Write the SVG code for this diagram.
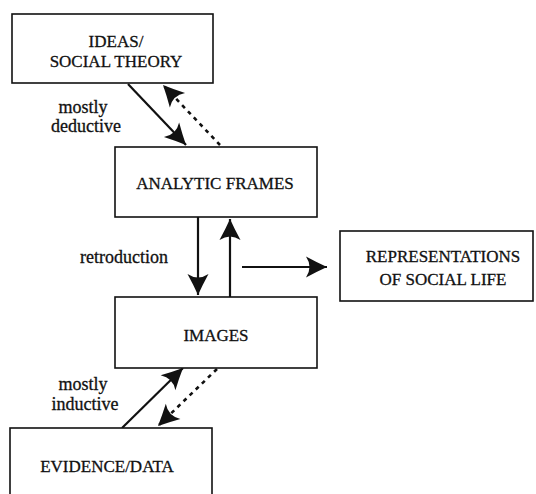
<svg xmlns="http://www.w3.org/2000/svg" width="536" height="494" viewBox="0 0 536 494" font-family="'Liberation Serif', 'Times New Roman', Times, serif">
  <style>
    .box { fill: #fff; stroke: #111; stroke-width: 1.6; }
    text { fill: #111; stroke: #111; stroke-width: 0.3; text-anchor: middle; }
    .cap { font-size: 17px; }
    .lbl { font-size: 18px; }
    .solid { fill: none; stroke: #111; stroke-width: 2.2; }
    .dash { fill: none; stroke: #111; stroke-width: 2.6; stroke-dasharray: 4 4.5; }
  </style>
  <defs>
    <marker id="head" viewBox="-24 -12 26 24" refX="0" refY="0" markerWidth="26" markerHeight="24" markerUnits="userSpaceOnUse" orient="auto">
      <path d="M0,0 Q-10,-4.5 -21,-10.5 Q-14,0 -21,10.5 Q-10,4.5 0,0 Z" fill="#111"/>
    </marker>
  </defs>

  <rect width="536" height="494" fill="#fff"/>

  <!-- connectors -->
  <g id="connectors">
    <!-- theory to frames (deductive) and back (dashed) -->
    <line class="solid" x1="128" y1="84" x2="186" y2="145" marker-end="url(#head)"/>
    <line class="dash" x1="220" y1="145" x2="163" y2="85" marker-end="url(#head)"/>
    <!-- retroduction loop between frames and images -->
    <line class="solid" x1="198" y1="217" x2="198" y2="295" marker-end="url(#head)"/>
    <line class="solid" x1="230" y1="297" x2="230" y2="219" marker-end="url(#head)"/>
    <!-- out to representations -->
    <line class="solid" x1="242" y1="267" x2="327" y2="267" marker-end="url(#head)"/>
    <!-- evidence to images (inductive) and back (dashed) -->
    <line class="solid" x1="122" y1="428" x2="183" y2="368" marker-end="url(#head)"/>
    <line class="dash" x1="217" y1="369" x2="158" y2="426" marker-end="url(#head)"/>
  </g>

  <g id="ideas">
    <rect class="box" x="12" y="14" width="201" height="69"/>
    <text class="cap" x="116" y="47">IDEAS/</text>
    <text class="cap" x="116" y="67">SOCIAL THEORY</text>
  </g>

  <g id="frames">
    <rect class="box" x="115" y="147" width="202" height="70"/>
    <text class="cap" x="215" y="189">ANALYTIC FRAMES</text>
  </g>

  <g id="images">
    <rect class="box" x="115" y="297" width="202" height="71"/>
    <text class="cap" x="216" y="341">IMAGES</text>
  </g>

  <g id="representations">
    <rect class="box" x="340" y="231" width="193" height="70"/>
    <text class="cap" x="443" y="262">REPRESENTATIONS</text>
    <text class="cap" x="443" y="285">OF SOCIAL LIFE</text>
  </g>

  <g id="evidence">
    <rect class="box" x="10" y="428" width="202" height="80"/>
    <text class="cap" x="107" y="472">EVIDENCE/DATA</text>
  </g>

  <!-- edge labels -->
  <g id="labels">
    <text class="lbl" x="83" y="113">mostly</text>
    <text class="lbl" x="86" y="132">deductive</text>
    <text class="lbl" x="124" y="263">retroduction</text>
    <text class="lbl" x="83" y="390">mostly</text>
    <text class="lbl" x="85" y="410">inductive</text>
  </g>
</svg>
